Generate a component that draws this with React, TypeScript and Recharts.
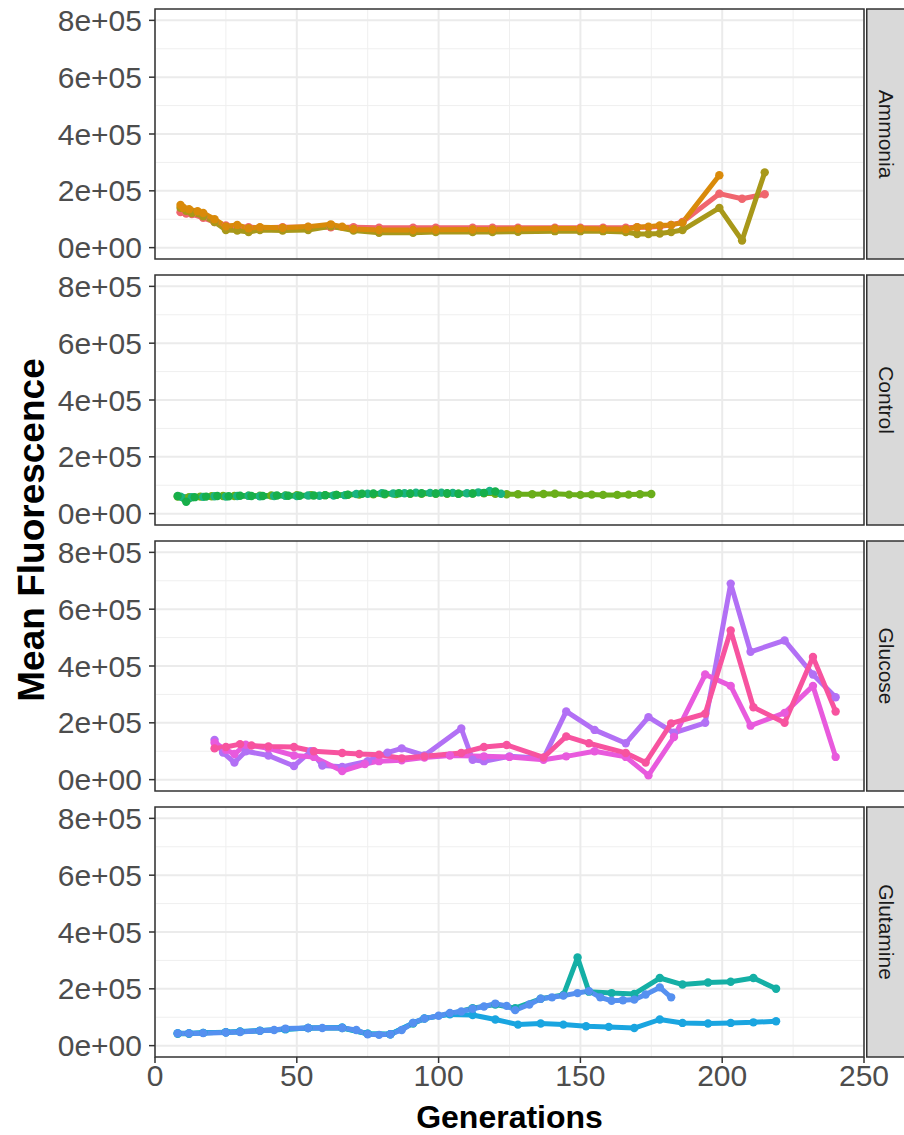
import React from 'react';
import { LineChart, Line, XAxis, YAxis, CartesianGrid, ReferenceArea } from 'recharts';

// ---------- axes / labels ----------
const xTicks = [0, 50, 100, 150, 200, 250];
const xMinor = [25, 75, 125, 175, 225];
const yTicks = [0, 200000, 400000, 600000, 800000];
const yTickLabels = ['0e+00', '2e+05', '4e+05', '6e+05', '8e+05'];
const yMinor = [100000, 300000, 500000, 700000];
const facetNames = ['Ammonia', 'Control', 'Glucose', 'Glutamine'];

// ---------- Ammonia (values in thousands) ----------
const ammoniaSalmonX = [9, 11, 13, 17, 21, 25, 29, 33, 37, 45, 54, 62, 70, 79, 91, 99, 112, 119, 128, 141, 150, 158, 166, 170, 174, 178, 182, 186, 199, 207, 215];
const ammoniaSalmonY = [125, 120, 118, 105, 90, 78, 72, 72, 70, 72, 73, 72, 72, 70, 70, 70, 70, 70, 70, 70, 70, 70, 70, 72, 72, 75, 80, 90, 190, 172, 188];
const ammoniaOliveX = [9, 11, 13, 17, 21, 25, 29, 33, 37, 45, 54, 62, 70, 79, 91, 99, 112, 119, 128, 141, 150, 158, 166, 170, 174, 178, 182, 186, 199, 207, 215];
const ammoniaOliveY = [140, 130, 122, 110, 90, 62, 60, 55, 62, 60, 62, 75, 60, 52, 52, 55, 55, 55, 56, 58, 58, 58, 55, 48, 48, 50, 55, 62, 140, 25, 265];
const ammoniaOrangeX = [9, 10, 12, 15, 17, 21, 25, 29, 33, 37, 45, 54, 62, 66, 70, 79, 91, 99, 112, 119, 128, 141, 150, 158, 166, 170, 174, 178, 182, 186, 199];
const ammoniaOrangeY = [150, 140, 135, 128, 122, 100, 75, 80, 68, 72, 70, 74, 82, 74, 66, 62, 62, 63, 64, 64, 66, 67, 67, 66, 65, 72, 74, 78, 80, 88, 255];

// ---------- Control ----------
const controlLimeX = [8, 12, 16, 20, 24, 28, 33, 37, 41, 46, 50, 55, 60, 64, 68, 72, 77, 81, 85, 90, 94, 99, 103, 107, 112, 116, 120, 124, 128, 133, 137, 141, 146, 150, 154, 158, 163, 167, 171, 175];
const controlLimeY = [60, 58, 60, 61, 62, 62, 63, 63, 64, 64, 65, 65, 65, 66, 66, 67, 68, 68, 69, 70, 70, 70, 70, 70, 71, 72, 70, 68, 68, 68, 69, 70, 67, 66, 67, 66, 66, 67, 68, 69];
const controlTealX = [9, 13, 17, 21, 25, 29, 33, 37, 42, 46, 50, 54, 58, 63, 67, 71, 75, 80, 84, 88, 92, 97, 101, 105, 110, 114, 118, 122];
const controlTealY = [60, 58, 59, 61, 60, 62, 63, 61, 62, 63, 62, 64, 63, 64, 65, 69, 70, 72, 71, 72, 74, 73, 74, 73, 72, 75, 80, 70];
const controlGreenX = [8, 11, 14, 18, 22, 26, 30, 34, 38, 43, 47, 51, 56, 60, 64, 68, 73, 77, 81, 86, 90, 94, 99, 103, 107, 112, 116, 120];
const controlGreenY = [62, 42, 58, 60, 62, 61, 63, 62, 62, 64, 63, 63, 64, 65, 66, 67, 70, 71, 70, 72, 71, 72, 71, 72, 70, 71, 73, 78];

// ---------- Glucose ----------
const glucosePurpleX = [21, 24, 28, 32, 40, 49, 55, 59, 66, 75, 82, 87, 95, 108, 112, 116, 125, 137, 145, 155, 166, 174, 183, 194, 203, 210, 222, 232, 240];
const glucosePurpleY = [140, 95, 60, 100, 85, 48, 100, 50, 45, 65, 95, 110, 85, 180, 70, 65, 82, 75, 240, 175, 128, 220, 165, 200, 690, 450, 490, 370, 290];
const glucoseMagentaX = [21, 25, 28, 32, 40, 49, 56, 66, 74, 79, 87, 95, 104, 116, 125, 137, 145, 155, 166, 174, 183, 194, 203, 210, 222, 232, 240];
const glucoseMagentaY = [130, 105, 90, 123, 110, 85, 80, 30, 55, 65, 68, 78, 85, 82, 80, 70, 82, 100, 80, 15, 150, 370, 330, 190, 235, 330, 80];
const glucosePinkX = [21, 25, 30, 34, 40, 49, 56, 66, 72, 79, 87, 95, 108, 116, 124, 137, 145, 153, 166, 173, 182, 194, 203, 211, 222, 232, 240];
const glucosePinkY = [110, 115, 125, 120, 117, 115, 100, 94, 90, 88, 75, 82, 94, 115, 122, 78, 152, 128, 94, 60, 198, 232, 525, 255, 200, 432, 240];

// ---------- Glutamine ----------
const glutTealX = [8, 12, 17, 25, 30, 37, 46, 54, 66, 75, 83, 91, 95, 104, 112, 120, 127, 136, 144, 149, 153, 161, 169, 178, 186, 195, 203, 211, 219];
const glutTealY = [42, 42, 45, 47, 49, 52, 58, 62, 62, 42, 40, 78, 95, 112, 132, 145, 132, 165, 178, 310, 190, 185, 182, 238, 215, 222, 225, 238, 200];
const glutSkyX = [8, 12, 17, 25, 30, 37, 46, 54, 66, 75, 83, 91, 95, 104, 112, 120, 128, 136, 144, 152, 160, 169, 178, 186, 195, 203, 211, 219];
const glutSkyY = [44, 44, 45, 47, 50, 53, 58, 62, 64, 42, 40, 80, 96, 110, 108, 92, 74, 78, 74, 68, 66, 62, 92, 80, 78, 80, 82, 86];
const glutBlueX = [8, 12, 17, 25, 30, 37, 42, 46, 54, 59, 66, 71, 75, 79, 83, 87, 91, 95, 100, 104, 108, 112, 116, 120, 124, 127, 132, 136, 140, 144, 149, 153, 157, 161, 165, 169, 173, 178, 182];
const glutBlueY = [43, 43, 44, 46, 48, 52, 55, 60, 62, 62, 62, 55, 40, 38, 40, 55, 80, 95, 105, 115, 120, 130, 138, 148, 140, 125, 145, 165, 170, 176, 185, 192, 170, 158, 160, 162, 180, 205, 170];

type Series = { color: string; xs: number[]; ys: number[] };

const facets: Series[][] = [
  [
    { color: '#F0666E', xs: ammoniaSalmonX, ys: ammoniaSalmonY },
    { color: '#A8981A', xs: ammoniaOliveX, ys: ammoniaOliveY },
    { color: '#D98A0A', xs: ammoniaOrangeX, ys: ammoniaOrangeY },
  ],
  [
    { color: '#6AAE1A', xs: controlLimeX, ys: controlLimeY },
    { color: '#19B381', xs: controlTealX, ys: controlTealY },
    { color: '#17AF4A', xs: controlGreenX, ys: controlGreenY },
  ],
  [
    { color: '#B270F5', xs: glucosePurpleX, ys: glucosePurpleY },
    { color: '#E85ADD', xs: glucoseMagentaX, ys: glucoseMagentaY },
    { color: '#F7539F', xs: glucosePinkX, ys: glucosePinkY },
  ],
  [
    { color: '#14AFA5', xs: glutTealX, ys: glutTealY },
    { color: '#1AA5E0', xs: glutSkyX, ys: glutSkyY },
    { color: '#5590F0', xs: glutBlueX, ys: glutBlueY },
  ],
];

const toPoints = (s: Series) => s.xs.map((x, i) => ({ x, y: s.ys[i] * 1000 }));

// ---------- layout ----------
const W = 904;
const PLOT_LEFT = 155;
const PLOT_RIGHT = 864;
const STRIP_W = W - PLOT_RIGHT;
const PANEL_TOPS = [9, 275, 541, 807];
const PANEL_H = 250;
const PAD = 10;
const X_AXIS_H = 80;
const FONT = '"Liberation Sans", Arial, Helvetica, sans-serif';
const Y_DOMAIN: [number, number] = [-40000, 840000];

function StripLabel(props: any) {
  const vb = props.viewBox || {};
  const x = (vb.x ?? PLOT_RIGHT) + 2;
  const y = vb.y ?? PAD;
  const h = vb.height ?? PANEL_H;
  return (
    <g>
      <rect x={x + 0.75} y={y} width={80} height={h} fill="#D9D9D9" stroke="#333333" strokeWidth={1.5} />
      <text
        transform={`translate(${x + 20}, ${y + h / 2}) rotate(90)`}
        textAnchor="middle"
        dominantBaseline="central"
        fontSize={21}
        fill="#1A1A1A"
        fontFamily={FONT}
      >
        {props.name}
      </text>
    </g>
  );
}

function Panel({ index }: { index: number }) {
  const isBottom = index === 3;
  const height = PAD + PANEL_H + (isBottom ? X_AXIS_H : PAD);
  return (
    <div style={{ position: 'absolute', left: 0, top: PANEL_TOPS[index] - PAD }}>
      <LineChart
        width={W}
        height={height}
        margin={{ top: PAD, right: 0, bottom: isBottom ? 0 : PAD, left: 0 }}
      >
        <CartesianGrid horizontalValues={yMinor} verticalValues={xMinor} stroke="#EFEFEF" strokeWidth={1} fill="none" />
        <CartesianGrid horizontalValues={yTicks} verticalValues={xTicks} stroke="#EBEBEB" strokeWidth={2} fill="none" />
        <XAxis
          type="number"
          dataKey="x"
          domain={[0, 250]}
          ticks={xTicks}
          allowDataOverflow
          hide={!isBottom}
          height={isBottom ? X_AXIS_H : 0}
          axisLine={false}
          tickLine={{ stroke: '#333333', strokeWidth: 1.5 }}
          tickSize={6}
          tickMargin={2}
          tick={{ fill: '#4D4D4D', fontSize: 30, fontFamily: FONT }}
          label={{
            value: 'Generations',
            position: 'insideBottom',
            offset: 9,
            fill: '#000000',
            fontSize: 32,
            fontWeight: 'bold',
            fontFamily: FONT,
          }}
        />
        <YAxis
          type="number"
          domain={Y_DOMAIN}
          allowDataOverflow
          ticks={yTicks}
          width={PLOT_LEFT}
          axisLine={false}
          tickLine={{ stroke: '#333333', strokeWidth: 1.5 }}
          tickSize={6}
          tickMargin={7}
          tickFormatter={(v: number) => yTickLabels[yTicks.indexOf(v)]}
          tick={{ fill: '#4D4D4D', fontSize: 30, fontFamily: FONT }}
        />
        <YAxis
          yAxisId="strip"
          orientation="right"
          domain={[0, 1]}
          width={STRIP_W}
          tick={false}
          tickLine={false}
          axisLine={false}
          label={<StripLabel name={facetNames[index]} />}
        />
        {facets[index].map((s, i) => (
          <Line
            key={i}
            data={toPoints(s)}
            dataKey="y"
            type="linear"
            stroke={s.color}
            strokeWidth={5}
            strokeLinejoin="round"
            dot={{ r: 4.2, fill: s.color, stroke: s.color, strokeWidth: 0 }}
            activeDot={false}
            isAnimationActive={false}
          />
        ))}
        <ReferenceArea x1={0} x2={250} y1={Y_DOMAIN[0]} y2={Y_DOMAIN[1]} fill="none" stroke="#333333" strokeWidth={1.5} />
      </LineChart>
    </div>
  );
}

export default function App() {
  return (
    <div style={{ position: 'absolute', left: 0, top: 0, width: W, height: 1135, background: '#FFFFFF', overflow: 'hidden' }}>
      {[0, 1, 2, 3].map((i) => (
        <Panel key={i} index={i} />
      ))}
      <svg width={70} height={1135} style={{ position: 'absolute', left: 0, top: 0 }}>
        <text
          transform="translate(44, 530) rotate(-90)"
          textAnchor="middle"
          fontSize={37}
          fontWeight="bold"
          fill="#000000"
          fontFamily={FONT}
        >
          Mean Fluorescence
        </text>
      </svg>
    </div>
  );
}
